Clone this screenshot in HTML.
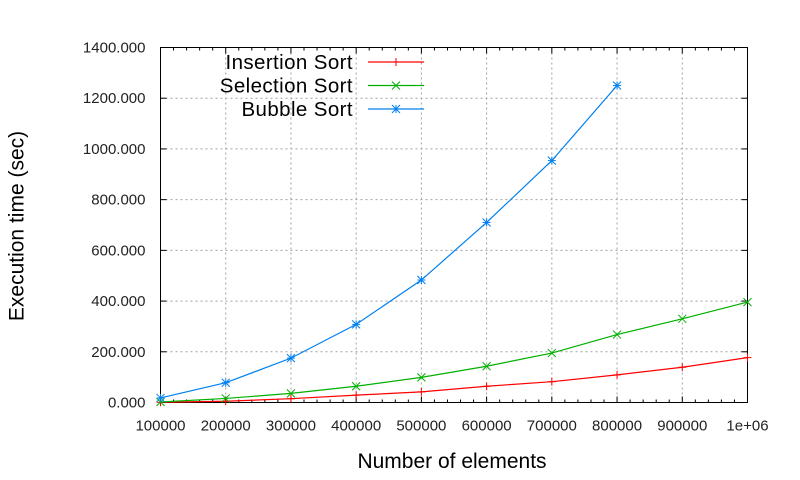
<!DOCTYPE html>
<html><head><meta charset="utf-8"><style>
body{margin:0;background:#fff}
svg{display:block;font-family:"Liberation Sans",sans-serif}
</style></head><body>
<svg id="chart" width="800" height="480" viewBox="0 0 800 480" xmlns="http://www.w3.org/2000/svg">
<rect width="800" height="480" fill="#fff"/>
<g id="grid"></g><g id="axes"></g><g id="series"></g><g id="legend"></g>
<text x="18" y="226" font-size="21" text-anchor="middle" transform="rotate(-90 18 226)" dominant-baseline="middle">Execution time (sec)</text>
<text x="452" y="468" font-size="21" text-anchor="middle">Number of elements</text>
</svg>
<script>
const categories=[100000,200000,300000,400000,500000,600000,700000,800000,900000,1000000];
const insertionValues=[1,5,15,29,42,64,82,109,139,177];
const selectionValues=[2,16,36,64,99,143,195,268,330,396];
const bubbleValues=[18,78,175,308,483,710,954,1250];
const yTicks=[0,200,400,600,800,1000,1200,1400];
const yTickLabels=["0.000","200.000","400.000","600.000","800.000","1000.000","1200.000","1400.000"];
const xTickLabels=["100000","200000","300000","400000","500000","600000","700000","800000","900000","1e+06"];
const L=160.5,R=747.5,T=47.5,B=402.5,NS="http://www.w3.org/2000/svg";
const xs=v=>L+(v-100000)/900000*(R-L);
const ys=v=>B-v/1400*(B-T);
function mk(tag,at,parent){const e=document.createElementNS(NS,tag);for(const k in at)e.setAttribute(k,at[k]);parent.appendChild(e);return e;}
const grid=document.getElementById('grid'),axes=document.getElementById('axes'),ser=document.getElementById('series'),leg=document.getElementById('legend');
categories.forEach((c,i)=>{const x=xs(c);
 if(i>0&&i<categories.length-1){const g=mk('line',{x1:x,x2:x,y1:T,y2:B,stroke:'#a0a0a0','stroke-dasharray':'2,3'},grid);
 
 }
 mk('line',{x1:x,x2:x,y1:B,y2:B-6,stroke:'#000'},axes);mk('line',{x1:x,x2:x,y1:T,y2:T+6,stroke:'#000'},axes);
 const t=mk('text',{x:x,y:B+28,'font-size':15,'text-anchor':'middle',fill:'#222'},axes);t.textContent=xTickLabels[i];
 
 
 if(i<categories.length-1)for(let k=1;k<5;k++){const mx=xs(c+k*20000);mk('line',{x1:mx,x2:mx,y1:B,y2:B-3,stroke:'#000'},axes);mk('line',{x1:mx,x2:mx,y1:T,y2:T+3,stroke:'#000'},axes);}
});
yTicks.forEach((v,i)=>{const y=ys(v);
 if(i>0&&i<yTicks.length-1){const g=mk('line',{x1:L,x2:R,y1:y,y2:y,stroke:'#a0a0a0','stroke-dasharray':'2,3'},grid);
 
 }
 mk('line',{x1:L,x2:L+6,y1:y,y2:y,stroke:'#000'},axes);mk('line',{x1:R,x2:R-6,y1:y,y2:y,stroke:'#000'},axes);
 const t=mk('text',{x:L-15,y:y+5,'font-size':15,'text-anchor':'end',fill:'#222'},axes);t.textContent=yTickLabels[i];
 
 
});
const frame=mk('rect',{x:L,y:T,width:R-L,height:B-T,fill:'none',stroke:'#000'},axes);


function marker(type,x,y,col,p){const s=4;
 if(type!=='x'){mk('line',{x1:x-s,x2:x+s,y1:y,y2:y,stroke:col},p);mk('line',{x1:x,x2:x,y1:y-s,y2:y+s,stroke:col},p);}
 if(type!=='+'){mk('line',{x1:x-s,x2:x+s,y1:y-s,y2:y+s,stroke:col},p);mk('line',{x1:x-s,x2:x+s,y1:y+s,y2:y-s,stroke:col},p);}}
const series=[["Insertion Sort",insertionValues,"#ff0000","+"],["Selection Sort",selectionValues,"#00b000","x"],["Bubble Sort",bubbleValues,"#0080f0","*"]];
series.forEach((s,si)=>{const g=mk('g',{},ser);
 
 
 const pts=s[1].map((v,i)=>xs(categories[i])+','+ys(v)).join(' ');
 mk('polyline',{points:pts,fill:'none',stroke:s[2],'stroke-width':1.2},g);
 s[1].forEach((v,i)=>marker(s[3],xs(categories[i]),ys(v),s[2],g));
 const ly=62+si*23.5;const lg=mk('g',{},leg);
 
 
 const t=mk('text',{x:353,y:ly+7,'font-size':20.5,'letter-spacing':0.4,'text-anchor':'end',fill:'#000'},lg);t.textContent=s[0];
 mk('line',{x1:368,x2:424,y1:ly,y2:ly,stroke:s[2],'stroke-width':1.2},lg);marker(s[3],396,ly,s[2],lg);
});
</script>
</body></html>
